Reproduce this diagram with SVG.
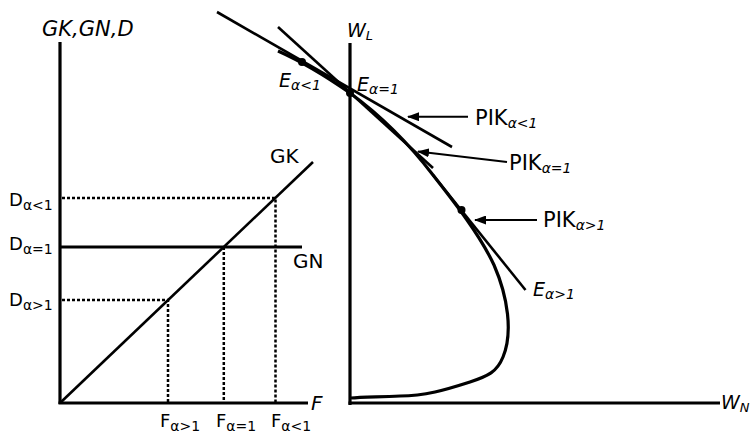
<svg xmlns="http://www.w3.org/2000/svg" width="750" height="434" viewBox="0 0 750 434">
<style>
.ax{stroke:#000;stroke-width:3.2;fill:none}
.ln{stroke:#000;stroke-width:2.6;fill:none}
.dot{stroke:#000;stroke-width:2.5;stroke-dasharray:3 2;fill:none}
.arr{stroke:#000;stroke-width:2;fill:none}
.t{font-family:"DejaVu Sans",Verdana,sans-serif;fill:#000}
.i{font-style:italic}
</style>
<defs>
<marker id="ah" markerWidth="12" markerHeight="9" refX="11" refY="4.5" orient="auto" markerUnits="userSpaceOnUse">
<path d="M0,0 L12,4.5 L0,9 z" fill="#000"/>
</marker>
</defs>
<rect width="750" height="434" fill="#fff"/>

<g id="left-axes">
<line class="ax" x1="60" y1="42" x2="60" y2="404"/>
<line class="ax" x1="58.5" y1="403" x2="308" y2="403"/>
<text class="t i" x="42" y="36" font-size="21">GK,GN,D</text>
<text class="t i" x="311" y="410" font-size="20">F</text>
</g>

<g id="GK">
<line class="ln" x1="60" y1="403" x2="313" y2="162" stroke-width="3"/>
<text class="t" x="270" y="163" font-size="20">GK</text>
</g>
<g id="GN">
<line class="ax" x1="60" y1="247" x2="302" y2="247"/>
<text class="t" x="293" y="268" font-size="20">GN</text>
</g>

<g id="dotted">
<polyline class="dot" points="62,198 275.5,198 275.5,402"/>
<polyline class="dot" points="223.8,247 223.8,402"/>
<polyline class="dot" points="62,300 168,300 168,402"/>
</g>

<g id="D-labels">
<text class="t" x="9" y="206" font-size="18">D<tspan font-size="14" y="210">α&lt;1</tspan></text>
<text class="t" x="9" y="250" font-size="18">D<tspan font-size="14" y="254">α=1</tspan></text>
<text class="t" x="9" y="306" font-size="18">D<tspan font-size="14" y="310">α&gt;1</tspan></text>
</g>
<g id="F-labels">
<text class="t" x="160" y="427" font-size="18">F<tspan font-size="14" y="431">α&gt;1</tspan></text>
<text class="t" x="216" y="427" font-size="18">F<tspan font-size="14" y="431">α=1</tspan></text>
<text class="t" x="271" y="427" font-size="18">F<tspan font-size="14" y="431">α&lt;1</tspan></text>
</g>

<g id="right-axes">
<line class="ax" x1="350" y1="43" x2="350" y2="405"/>
<line class="ax" x1="348.5" y1="403" x2="720" y2="403"/>
<text class="t i" x="347" y="37" font-size="19">W<tspan font-size="13" y="40">L</tspan></text>
<text class="t i" x="721" y="409" font-size="19">W<tspan font-size="13" y="412">N</tspan></text>
</g>

<g id="curve">
<path class="ax" d="M278,51 C305,63 330,79 350,93 C380,115 410,145 433,175 C455,203 480,235 494,265 C508,297 513,333 503,357 C497,372 488,376 470,382 C445,390 425,396 400,396 C375,397 360,397 351,398"/>
</g>

<g id="PIK-lt1">
<line class="ln" x1="217" y1="12" x2="452" y2="147"/>
</g>
<g id="PIK-eq1">
<line class="ln" x1="278" y1="27" x2="433" y2="168"/>
</g>
<g id="PIK-gt1">
<line class="ln" x1="433" y1="175" x2="525.5" y2="290"/>
</g>

<g id="E-points">
<circle cx="302" cy="62" r="4" fill="#000"/>
<circle cx="350" cy="93" r="4" fill="#000"/>
<circle cx="461.5" cy="210" r="4" fill="#000"/>
<text class="t i" x="279" y="87" font-size="19">E<tspan font-size="14" y="90">α&lt;1</tspan></text>
<text class="t i" x="357" y="91" font-size="19">E<tspan font-size="14" y="94">α=1</tspan></text>
<text class="t i" x="533" y="296" font-size="19">E<tspan font-size="14" y="299">α&gt;1</tspan></text>
</g>

<g id="connectors">
<line class="arr" x1="468" y1="116.7" x2="408" y2="116.7" marker-end="url(#ah)"/>
<line class="arr" x1="507" y1="162" x2="418" y2="151.5" stroke-width="1.6" marker-end="url(#ah)"/>
<line class="arr" x1="537" y1="220" x2="475" y2="220" marker-end="url(#ah)"/>
</g>

<g id="PIK-labels">
<text class="t" x="475" y="125" font-size="21">PIK<tspan class="i" font-size="14" y="128">α&lt;1</tspan></text>
<text class="t" x="509" y="170" font-size="21">PIK<tspan class="i" font-size="14" y="173">α=1</tspan></text>
<text class="t" x="543" y="227" font-size="21">PIK<tspan class="i" font-size="14" y="230">α&gt;1</tspan></text>
</g>
</svg>
